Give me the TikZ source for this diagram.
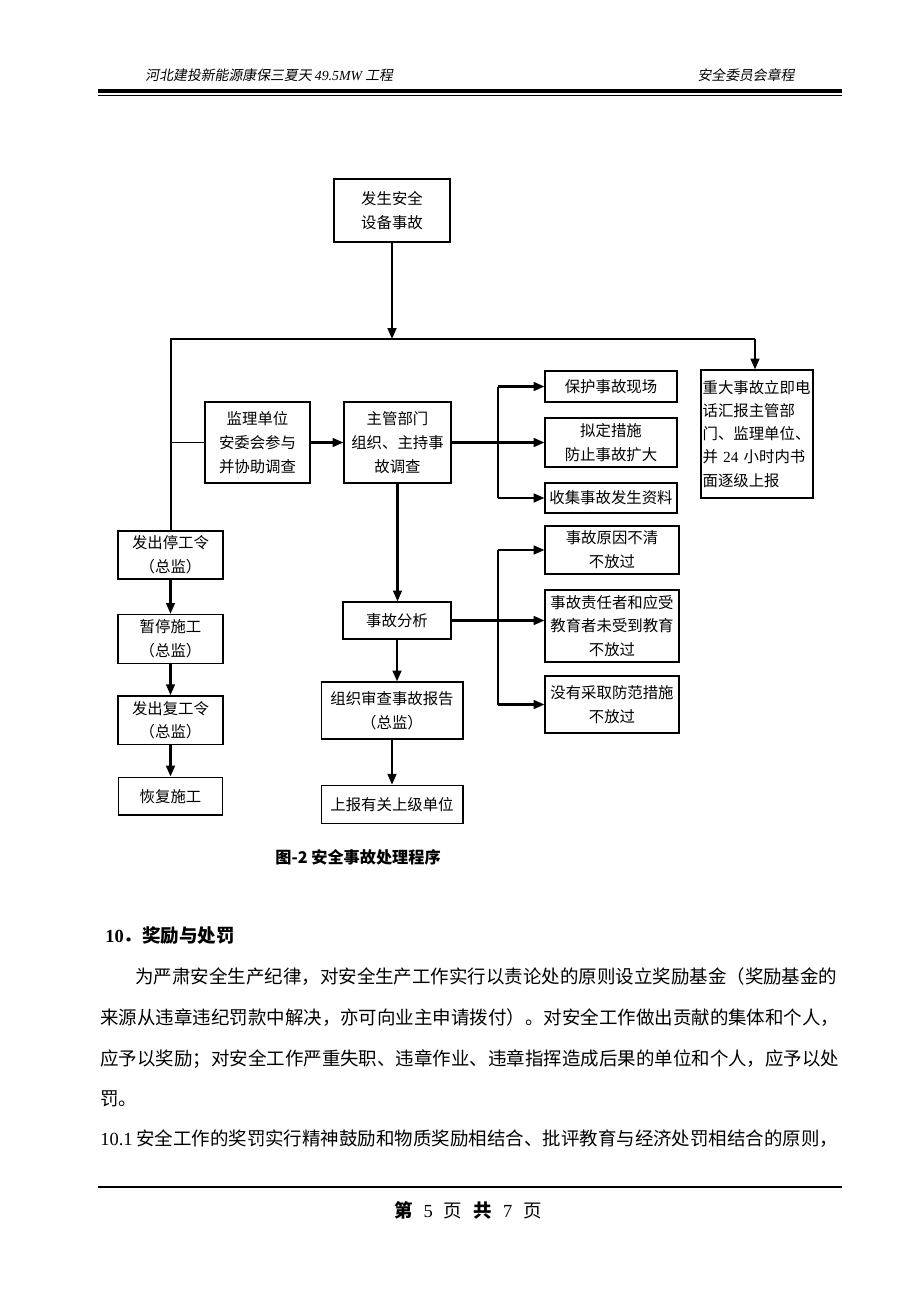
\documentclass[tikz,border=0pt]{standalone}
\usepackage{fontspec}
\setmainfont{Noto Sans CJK SC}
\newfontfamily\hdfont[FakeSlant=0.18]{Noto Sans CJK SC}
\newfontfamily\lat{Liberation Serif}
\usetikzlibrary{arrows.meta, positioning}
\def\px{0.6477pt}
\newcommand\bodyline[2]{\hbox to \dimexpr\px*#1\relax{\XeTeXlinebreaklocale "zh"\XeTeXlinebreakskip=0pt plus 3pt\relax #2}}

\begin{document}
\begin{tikzpicture}[x=0.02283cm, y=-0.02283cm,
            box/.style = {draw, line width=0.9pt, align=center, inner sep=1pt, font=\fontsize{10pt}{15.5pt}\selectfont},
            arr/.style = {-{Triangle[length=7pt,width=5.6pt]}, line width=1.5pt},
            ln/.style = {line width=1pt},
            fan/.style = {line width=1.5pt}]
            \useasboundingbox (0,0) rectangle (920,1302);
            % page head
            \node (hl)[anchor=west, font=\hdfont\fontsize{9pt}{9pt}\selectfont] at (140,75) {河北建投新能源康保三夏天 {\lat\itshape 49.5MW} 工程};
            \node (hr)[anchor=east, font=\hdfont\fontsize{9pt}{9pt}\selectfont] at (800,75) {安全委员会章程};
            \draw[line width=2.6pt] (98,91) -- (842,91);
            \draw[line width=0.6pt] (98,95.5) -- (842,95.5);

            % boxes
            \node (fs)[box, minimum width=116*\px, minimum height=63*\px] at (392,210.5) {发生安全\\设备事故};
            \node (jl)[box, minimum width=105*\px, minimum height=81*\px] at (257.5,442.5) {监理单位\\安委会参与\\并协助调查};
            \node (zg)[box, minimum width=107*\px, minimum height=81*\px] at (397.5,442.5) {主管部门\\组织、主持事\\故调查};
            \node (bh)[box, minimum width=132*\px, minimum height=31*\px] at (611,386.5) {保护事故现场};
            \node (nd)[box, minimum width=132*\px, minimum height=49*\px] at (611,442.5) {拟定措施\\防止事故扩大};
            \node (sj)[box, minimum width=132*\px, minimum height=30*\px] at (611,498) {收集事故发生资料};
            \node (zd)[box, align=left, text width=109*\px, inner xsep=1.5*\px, minimum height=128*\px,
                font=\fontsize{10pt}{15pt}\selectfont] at (757,434)
                {重大事故立即电\\话汇报主管部\\门、监理单位、\\\makebox[\linewidth][s]{并 {\lat 24} 小时内书}\\面逐级上报};
            \node (fx)[box, minimum width=108*\px, minimum height=37*\px] at (397,620.5) {事故分析};
            \node (yy)[box, minimum width=134*\px, minimum height=48*\px] at (612,550) {事故原因不清\\不放过};
            \node (zr)[box, minimum width=134*\px, minimum height=72*\px] at (612,626) {事故责任者和应受\\教育者未受到教育\\不放过};
            \node (cq)[box, minimum width=134*\px, minimum height=57*\px] at (612,704.5) {没有采取防范措施\\不放过};
            \node (sc)[box, minimum width=142*\px, minimum height=57*\px] at (392,710.5) {组织审查事故报告\\（总监）};
            \node (sb)[box, minimum width=142*\px, minimum height=38*\px, below=1.03cm of sc] {上报有关上级单位};
            \node (tg)[box, minimum width=105*\px, minimum height=48*\px] at (170.5,555) {发出停工令\\（总监）};
            \node (zt)[box, minimum width=105*\px, minimum height=49*\px, below=0.78cm of tg] {暂停施工\\（总监）};
            \node (fg)[box, minimum width=105*\px, minimum height=49*\px, below=0.71cm of zt] {发出复工令\\（总监）};
            \node (hf)[box, minimum width=104*\px, minimum height=38*\px, below=0.71cm of fg] {恢复施工};

            % connectors
            \coordinate (lt) at (171,339);
            \coordinate (rt) at (755,339);
            \coordinate (k1) at (498,0);
            \draw[arr] (fs) -- (fs |- lt);
            \draw[ln] (lt |- tg.north) -- (lt) -- (rt);
            \draw[arr] (rt) -- (rt |- zd.north);
            \draw[ln] (lt |- jl) -- (jl);
            \draw[arr] (jl) -- (zg);
            \draw[fan] (zg) -- (zg -| k1);
            \draw[fan] (bh -| k1) -- (sj -| k1);
            \draw[arr] (bh -| k1) -- (bh);
            \draw[arr] (nd -| k1) -- (nd);
            \draw[arr] (sj -| k1) -- (sj);
            \draw[arr] (zg.south) -- (zg.south |- fx.north);
            \draw[fan] (fx) -- (fx -| k1);
            \draw[fan] (yy -| k1) -- (cq -| k1);
            \draw[arr] (yy -| k1) -- (yy);
            \draw[arr] (fx -| k1) -- (fx -| zr.west);
            \draw[arr] (cq -| k1) -- (cq);
            \draw[arr] (fx.south) -- (fx.south |- sc.north);
            \draw[arr] (sc) -- (sb);
            \draw[arr] (tg) -- (zt);
            \draw[arr] (zt) -- (fg);
            \draw[arr] (fg) -- (hf);

            % caption and text
            \node (cap)[anchor=west, font=\bfseries\fontsize{10.5pt}{10.5pt}\selectfont] at (270,857) {图-2 安全事故处理程序};
            \node (h10)[anchor=west, font=\bfseries\fontsize{12pt}{12pt}\selectfont] at (100,936) {{\lat 10}．奖励与处罚};
            \node (p1)[anchor=west, inner sep=0pt, font=\fontsize{12pt}{12pt}\selectfont] at (135,977)
                {\bodyline{705}{为严肃安全生产纪律，对安全生产工作实行以责论处的原则设立奖励基金（奖励基金的}};
            \node (p2)[anchor=west, inner sep=0pt, font=\fontsize{12pt}{12pt}\selectfont] at (100,1018)
                {\bodyline{740}{来源从违章违纪罚款中解决，亦可向业主申请拨付）。对安全工作做出贡献的集体和个人，}};
            \node (p3)[anchor=west, inner sep=0pt, font=\fontsize{12pt}{12pt}\selectfont] at (100,1059)
                {\bodyline{740}{应予以奖励；对安全工作严重失职、违章作业、违章指挥造成后果的单位和个人，应予以处}};
            \node (p4)[anchor=west, inner sep=0pt, font=\fontsize{12pt}{12pt}\selectfont] at (100,1099) {罚。};
            \node (p5)[anchor=west, inner sep=0pt, font=\fontsize{12pt}{12pt}\selectfont] at (100,1139)
                {\bodyline{740}{{\lat 10.1} 安全工作的奖罚实行精神鼓励和物质奖励相结合、批评教育与经济处罚相结合的原则，}};

            % page foot
            \draw[line width=1.3pt] (98,1187) -- (842,1187);
            \node (pg)[font=\fontsize{12pt}{12pt}\selectfont] at (468,1210)
                {{\bfseries 第}\hspace{0.6em}{\lat 5}\hspace{0.6em}页\hspace{0.6em}{\bfseries 共}\hspace{0.6em}{\lat 7}\hspace{0.6em}页};
\end{tikzpicture}
\end{document}
